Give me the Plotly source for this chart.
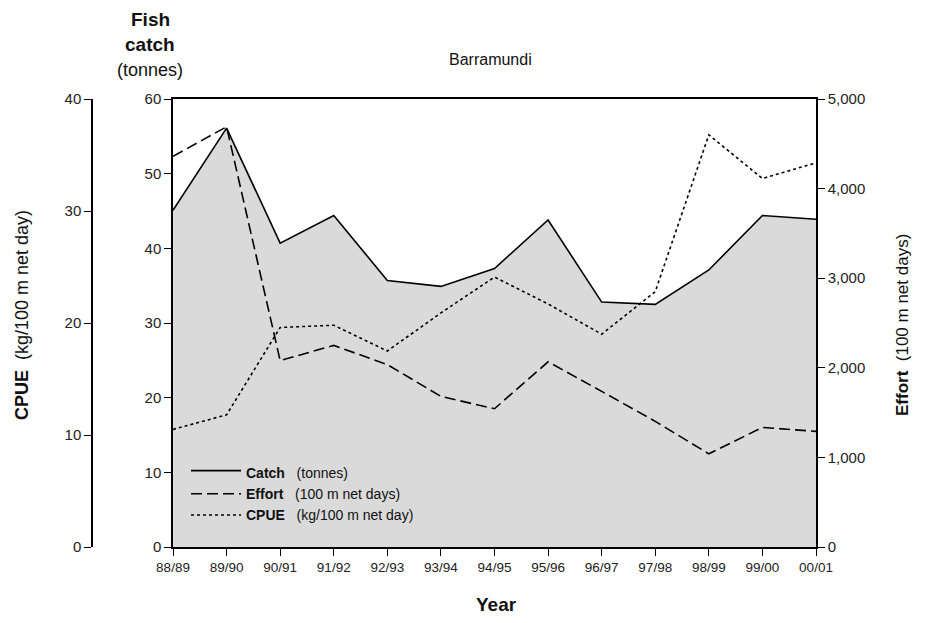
import plotly.graph_objects as go

years = ["88/89", "89/90", "90/91", "91/92", "92/93", "93/94", "94/95",
         "95/96", "96/97", "97/98", "98/99", "99/00", "00/01"]
catch_t = [45.1, 56.1, 40.7, 44.4, 35.7, 34.9, 37.3, 43.8, 32.8, 32.5, 37.1, 44.4, 43.9]
effort = [4360, 4690, 2080, 2250, 2036, 1681, 1543, 2067, 1737, 1402, 1040, 1335, 1290]
cpue = [10.5, 11.8, 19.6, 19.8, 17.5, 20.9, 24.1, 21.7, 19.0, 22.8, 36.8, 32.9, 34.3]

OFF = 8  # default page body margin
W, H = 925 - 2 * OFF, 623 - 2 * OFF
FONT = "Liberation Sans, Arial, sans-serif"


def px(x):
    return (x - OFF) / W


def py(y):
    return 1 - (y - OFF) / H


fig = go.Figure()
fig.add_trace(go.Scatter(
    x=years, y=catch_t, mode="lines", fill="tozeroy", fillcolor="#dadada",
    line=dict(color="black", width=1.6),
    name="<b>Catch</b>\u00a0\u00a0\u00a0(tonnes)", yaxis="y"))
fig.add_trace(go.Scatter(
    x=years, y=effort, mode="lines",
    line=dict(color="black", width=1.6, dash="11px,5px"),
    name="<b>Effort</b>\u00a0\u00a0\u00a0(100 m net days)", yaxis="y3"))
fig.add_trace(go.Scatter(
    x=years, y=cpue, mode="lines",
    line=dict(color="black", width=1.6, dash="3px,3px"),
    name="<b>CPUE</b>\u00a0\u00a0\u00a0(kg/100 m net day)", yaxis="y2"))

tickfont = dict(family=FONT, size=15, color="#222")
common = dict(showgrid=False, zeroline=False, showline=True, linecolor="black",
              linewidth=1.5, ticks="outside", ticklen=7, tickwidth=1.3,
              tickcolor="black", tickfont=tickfont, automargin=False)

fig.update_layout(
    width=W, height=H,
    margin=dict(l=0, r=0, t=0, b=0, pad=0, autoexpand=False),
    paper_bgcolor="white", plot_bgcolor="white",
    font=dict(family=FONT, color="#111"),
    showlegend=True,
    legend=dict(x=px(186), y=py(457), xanchor="left", yanchor="top",
                bgcolor="rgba(0,0,0,0)", font=dict(family=FONT, size=14, color="#111"),
                tracegroupgap=3, itemwidth=50),
    xaxis=dict(domain=[px(173), px(816)], type="category", range=[0, 12], mirror=True,
               tickfont=dict(family=FONT, size=13.5, color="#222"),
               **{k: v for k, v in common.items() if k != "tickfont"}),
    yaxis=dict(domain=[py(547), py(99)], range=[0, 60], dtick=10, anchor="x", **common),
    yaxis2=dict(range=[0, 40], dtick=10, overlaying="y", side="left",
                anchor="free", position=px(92), **common),
    yaxis3=dict(range=[0, 5000], dtick=1000, tickformat=",d", overlaying="y",
                side="right", anchor="x", **common),
    separators=".,",
)

ann = [
    dict(x=px(150), y=py(20), text="<b>Fish</b>", size=19),
    dict(x=px(150), y=py(45), text="<b>catch</b>", size=19),
    dict(x=px(150), y=py(70), text="(tonnes)", size=18),
    dict(x=px(490), y=py(60), text="Barramundi", size=16),
    dict(x=px(497), y=py(604), text="<b>Year</b>", size=19),
]
for a in ann:
    fig.add_annotation(x=a["x"], y=a["y"], xref="paper", yref="paper",
                       text=a["text"], showarrow=False, xanchor="center",
                       yanchor="middle", font=dict(family=FONT, size=a["size"], color="#111"))

fig.add_annotation(x=px(22), y=py(315), xref="paper", yref="paper",
                   text="<b>CPUE</b>\u00a0\u00a0(kg/100 m net day)", textangle=-90,
                   showarrow=False, xanchor="center", yanchor="middle",
                   font=dict(family=FONT, size=18, color="#111"))
fig.add_annotation(x=px(903), y=py(325), xref="paper", yref="paper",
                   text="<b>Effort</b>\u00a0\u00a0(100 m net days)", textangle=-90,
                   showarrow=False, xanchor="center", yanchor="middle",
                   font=dict(family=FONT, size=17, color="#111"))

fig.write_html("out.html")
